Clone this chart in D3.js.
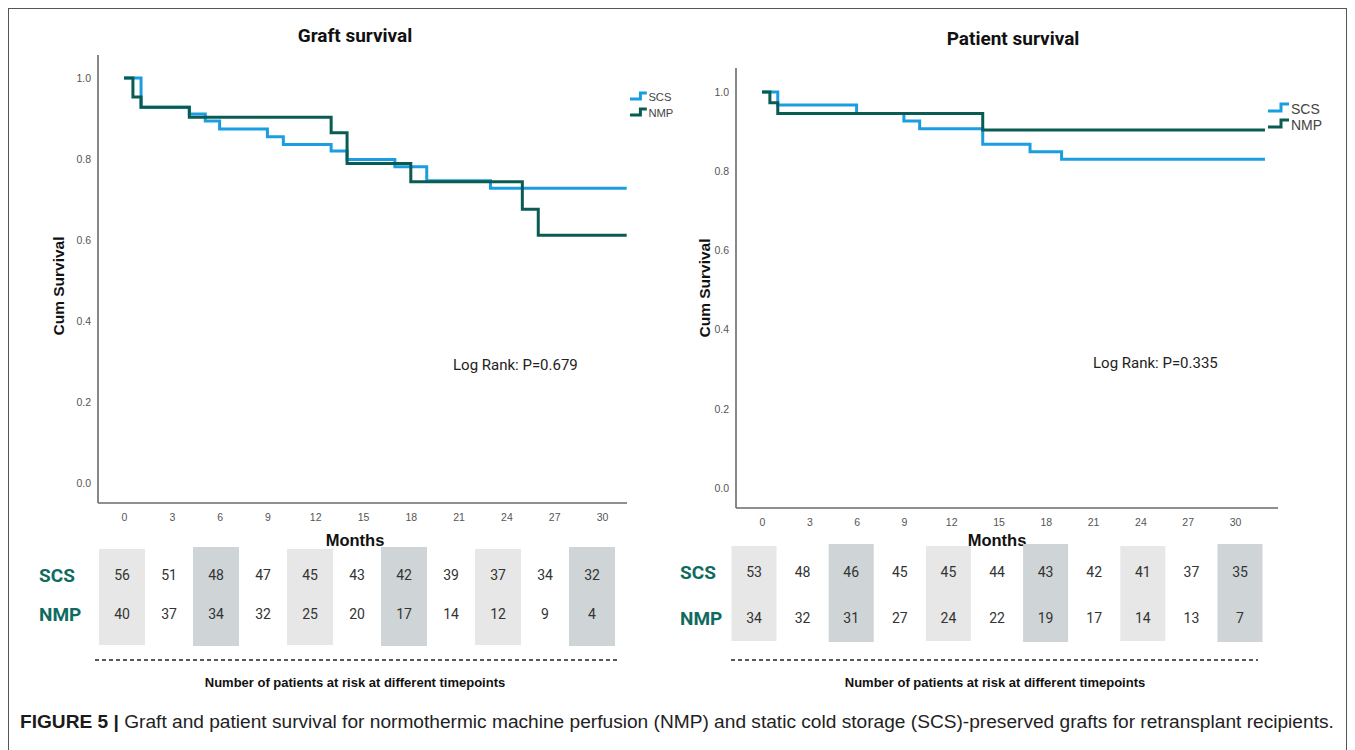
<!DOCTYPE html>
<html>
<head>
<meta charset="utf-8">
<script src="https://cdn.jsdelivr.net/npm/d3@7"></script>
<style>
  html, body { margin: 0; padding: 0; background: #fff; }
  svg { display: block; }
</style>
</head>
<body>
<svg id="chart" width="1355" height="750"></svg>
<script>
// ---------------- DATA ----------------
const xTickMonths = [0, 3, 6, 9, 12, 15, 18, 21, 24, 27, 30];
const yTickValues = [0.0, 0.2, 0.4, 0.6, 0.8, 1.0];
const seriesNames = ["SCS", "NMP"];

// Graft survival (Kaplan-Meier step points: month of change, survival after change)
const graftMonthsSCS = [0, 1.07, 4.1, 5.1, 6.0, 9.0, 10.0, 13.0, 14.0, 17.0, 19.0, 23.0, 31.55];
const graftSurvSCS   = [1.0, 0.928, 0.911, 0.894, 0.874, 0.855, 0.836, 0.820, 0.799, 0.781, 0.746, 0.728, 0.728];
const graftMonthsNMP = [0, 0.56, 1.07, 4.1, 13.0, 14.0, 18.0, 25.0, 26.0, 31.55];
const graftSurvNMP   = [1.0, 0.953, 0.928, 0.903, 0.865, 0.789, 0.744, 0.676, 0.612, 0.612];

// Patient survival
const patientMonthsSCS = [0, 1.0, 6.0, 9.0, 10.0, 14.0, 17.0, 19.0, 31.9];
const patientSurvSCS   = [1.0, 0.967, 0.946, 0.927, 0.907, 0.868, 0.849, 0.830, 0.830];
const patientMonthsNMP = [0, 0.5, 1.0, 14.0, 31.9];
const patientSurvNMP   = [1.0, 0.973, 0.946, 0.904, 0.904];

// Numbers at risk
const graftRiskSCS   = [56, 51, 48, 47, 45, 43, 42, 39, 37, 34, 32];
const graftRiskNMP   = [40, 37, 34, 32, 25, 20, 17, 14, 12, 9, 4];
const patientRiskSCS = [53, 48, 46, 45, 45, 44, 43, 42, 41, 37, 35];
const patientRiskNMP = [34, 32, 31, 27, 24, 22, 19, 17, 14, 13, 7];

const titles = ["Graft survival", "Patient survival"];
const logRankLabels = ["Log Rank: P=0.679", "Log Rank: P=0.335"];
const captionBold = "FIGURE 5 |";
const captionText = " Graft and patient survival for normothermic machine perfusion (NMP) and static cold storage (SCS)-preserved grafts for retransplant recipients.";

// ---------------- STYLE ----------------
const colSCS = "#1b9de2";
const colNMP = "#0a5c52";
const colLabel = "#0f6b60";
const axisCol = "#6a6a6a";
const tickCol = "#555";
const narrow = "'Liberation Sans Narrow', 'Arial Narrow', sans-serif";

const svg = d3.select("#chart");

// outer frame
svg.append("rect").attr("x", 8.5).attr("y", 8.5).attr("width", 1338).attr("height", 760)
  .attr("fill", "none").attr("stroke", "#555").attr("stroke-width", 1);

const panels = [
  {
    title: titles[0], logRank: logRankLabels[0],
    sMonths: graftMonthsSCS, sSurv: graftSurvSCS, nMonths: graftMonthsNMP, nSurv: graftSurvNMP,
    riskS: graftRiskSCS, riskN: graftRiskNMP,
    xRange: [124, 602], yRange: [483, 78], axisX: [98, 627], axisY: [55, 503],
    titleX: 355, titleY: 42, ylabX: 64, ylabY: 286, lrX: 453, lrY: 370,
    legX: 630, legY: [97, 113], legScale: 0.8,
    monthsX: 355, monthsY: 546,
    tableRange: [122, 592], rowLabX: 39, rowY: [575, 614], rectY: [549, 645], rectW: 46,
    dash: [95, 620], dashY: 660, noteX: 355, noteY: 687
  },
  {
    title: titles[1], logRank: logRankLabels[1],
    sMonths: patientMonthsSCS, sSurv: patientSurvSCS, nMonths: patientMonthsNMP, nSurv: patientSurvNMP,
    riskS: patientRiskSCS, riskN: patientRiskNMP,
    xRange: [762, 1235], yRange: [488, 92], axisX: [736, 1278], axisY: [68, 508],
    titleX: 1013, titleY: 45, ylabX: 710, ylabY: 288, lrX: 1093, lrY: 368,
    legX: 1268, legY: [109, 125], legScale: 1,
    monthsX: 997, monthsY: 546,
    tableRange: [754, 1240], rowLabX: 680, rowY: [572, 618], rectY: [546, 641], rectW: 45,
    dash: [731, 1258], dashY: 660, noteX: 995, noteY: 687
  }
];

panels.forEach(p => {
  const g = svg.append("g");
  const x = d3.scaleLinear().domain([0, 30]).range(p.xRange);
  const y = d3.scaleLinear().domain([0, 1]).range(p.yRange);

  // title
  g.append("text").attr("x", p.titleX).attr("y", p.titleY).attr("text-anchor", "middle")
    .attr("font-family", "Roboto, sans-serif").attr("font-weight", "bold").attr("font-size", 19)
    .attr("fill", "#111").text(p.title);

  // axes lines
  g.append("line").attr("x1", p.axisX[0]).attr("x2", p.axisX[0]).attr("y1", p.axisY[0]).attr("y2", p.axisY[1])
    .attr("stroke", axisCol).attr("stroke-width", 1.6);
  g.append("line").attr("x1", p.axisX[0]).attr("x2", p.axisX[1]).attr("y1", p.axisY[1]).attr("y2", p.axisY[1])
    .attr("stroke", axisCol).attr("stroke-width", 1.6);

  // y axis ticks
  const ya = g.append("g").attr("transform", `translate(${p.axisX[0]},0)`)
    .call(d3.axisLeft(y).tickValues(yTickValues).tickFormat(d3.format(".1f")).tickSize(0).tickPadding(7));
  ya.select(".domain").remove();
  ya.selectAll("text").attr("font-family", narrow).attr("font-size", 10.5).attr("fill", tickCol);

  // x axis ticks
  const xa = g.append("g").attr("transform", `translate(0,${p.axisY[1]})`)
    .call(d3.axisBottom(x).tickValues(xTickMonths).tickFormat(d3.format("d")).tickSize(0).tickPadding(11));
  xa.select(".domain").remove();
  xa.selectAll("text").attr("font-family", narrow).attr("font-size", 10.5).attr("fill", tickCol);

  // y label
  g.append("text").attr("transform", `translate(${p.ylabX},${p.ylabY}) rotate(-90)`)
    .attr("text-anchor", "middle").attr("font-family", "'Liberation Sans', Arial, sans-serif")
    .attr("font-weight", "bold").attr("font-size", 15.5).attr("fill", "#111").text("Cum Survival");

  // curves
  const line = d3.line().x(d => x(d[0])).y(d => y(d[1])).curve(d3.curveStepAfter);
  const sData = d3.zip(p.sMonths, p.sSurv);
  const nData = d3.zip(p.nMonths, p.nSurv);
  g.append("path").attr("d", line(sData)).attr("fill", "none").attr("stroke", colSCS).attr("stroke-width", 3);
  g.append("path").attr("d", line(nData)).attr("fill", "none").attr("stroke", colNMP).attr("stroke-width", 3);

  // legend
  const ls = p.legScale;
  [colSCS, colNMP].forEach((c, i) => {
    const ly = p.legY[i];
    const lx = p.legX;
    g.append("path")
      .attr("d", `M${lx},${ly + 2}H${lx + 13 * ls}V${ly - 5 * ls}H${lx + 21 * ls}`)
      .attr("fill", "none").attr("stroke", c).attr("stroke-width", 3);
    g.append("text").attr("x", lx + 23 * ls).attr("y", ly).attr("dy", "0.36em")
      .attr("font-family", narrow).attr("font-size", 14 * ls).attr("fill", "#444").text(seriesNames[i]);
  });

  // log rank
  g.append("text").attr("x", p.lrX).attr("y", p.lrY).attr("font-family", "Roboto, sans-serif")
    .attr("font-size", 15).attr("fill", "#222").text(p.logRank);

  // Months label
  g.append("text").attr("x", p.monthsX).attr("y", p.monthsY).attr("text-anchor", "middle")
    .attr("font-family", narrow).attr("font-weight", "bold").attr("font-size", 16.5)
    .attr("fill", "#111").text("Months");

  // at-risk table
  const tx = d3.scaleLinear().domain([0, 30]).range(p.tableRange);
  xTickMonths.forEach((m, i) => {
    if (i % 2 === 0) {
      const dark = (i % 4 === 2);
      g.append("rect").attr("x", tx(m) - p.rectW / 2).attr("y", p.rectY[0] - (dark ? 2 : 0))
        .attr("width", p.rectW).attr("height", p.rectY[1] - p.rectY[0] + (dark ? 3 : 0))
        .attr("fill", dark ? "#cfd4d6" : "#e7e7e7");
    }
  });
  [p.riskS, p.riskN].forEach((arr, r) => {
    g.append("text").attr("x", p.rowLabX).attr("y", p.rowY[r]).attr("dy", "0.36em")
      .attr("font-family", "Roboto, sans-serif").attr("font-weight", "bold").attr("font-size", 19)
      .attr("fill", colLabel).text(seriesNames[r]);
    g.selectAll(null).data(arr).enter().append("text")
      .attr("x", (d, i) => tx(xTickMonths[i])).attr("y", p.rowY[r]).attr("dy", "0.36em")
      .attr("text-anchor", "middle").attr("font-family", "Roboto, sans-serif")
      .attr("font-size", 14).attr("fill", "#333").text(d => d);
  });

  // dashed line + note
  g.append("line").attr("x1", p.dash[0]).attr("x2", p.dash[1]).attr("y1", p.dashY).attr("y2", p.dashY)
    .attr("stroke", "#222").attr("stroke-width", 1.6).attr("stroke-dasharray", "4,3");
  g.append("text").attr("x", p.noteX).attr("y", p.noteY).attr("text-anchor", "middle")
    .attr("font-family", narrow).attr("font-weight", "bold").attr("font-size", 13)
    .attr("fill", "#111").text("Number of patients at risk at different timepoints");
});

// caption
const cap = svg.append("text").attr("x", 20).attr("y", 728)
  .attr("font-family", "'Liberation Sans', Arial, sans-serif").attr("font-size", 16).attr("fill", "#222");
cap.append("tspan").attr("font-weight", "bold").attr("fill", "#1a1a1a").text(captionBold);
cap.append("tspan").text(captionText);
// fit caption width to span 20..1335
const w = cap.node().getComputedTextLength();
cap.attr("font-size", 16 * 1315 / w);
</script>
</body>
</html>
